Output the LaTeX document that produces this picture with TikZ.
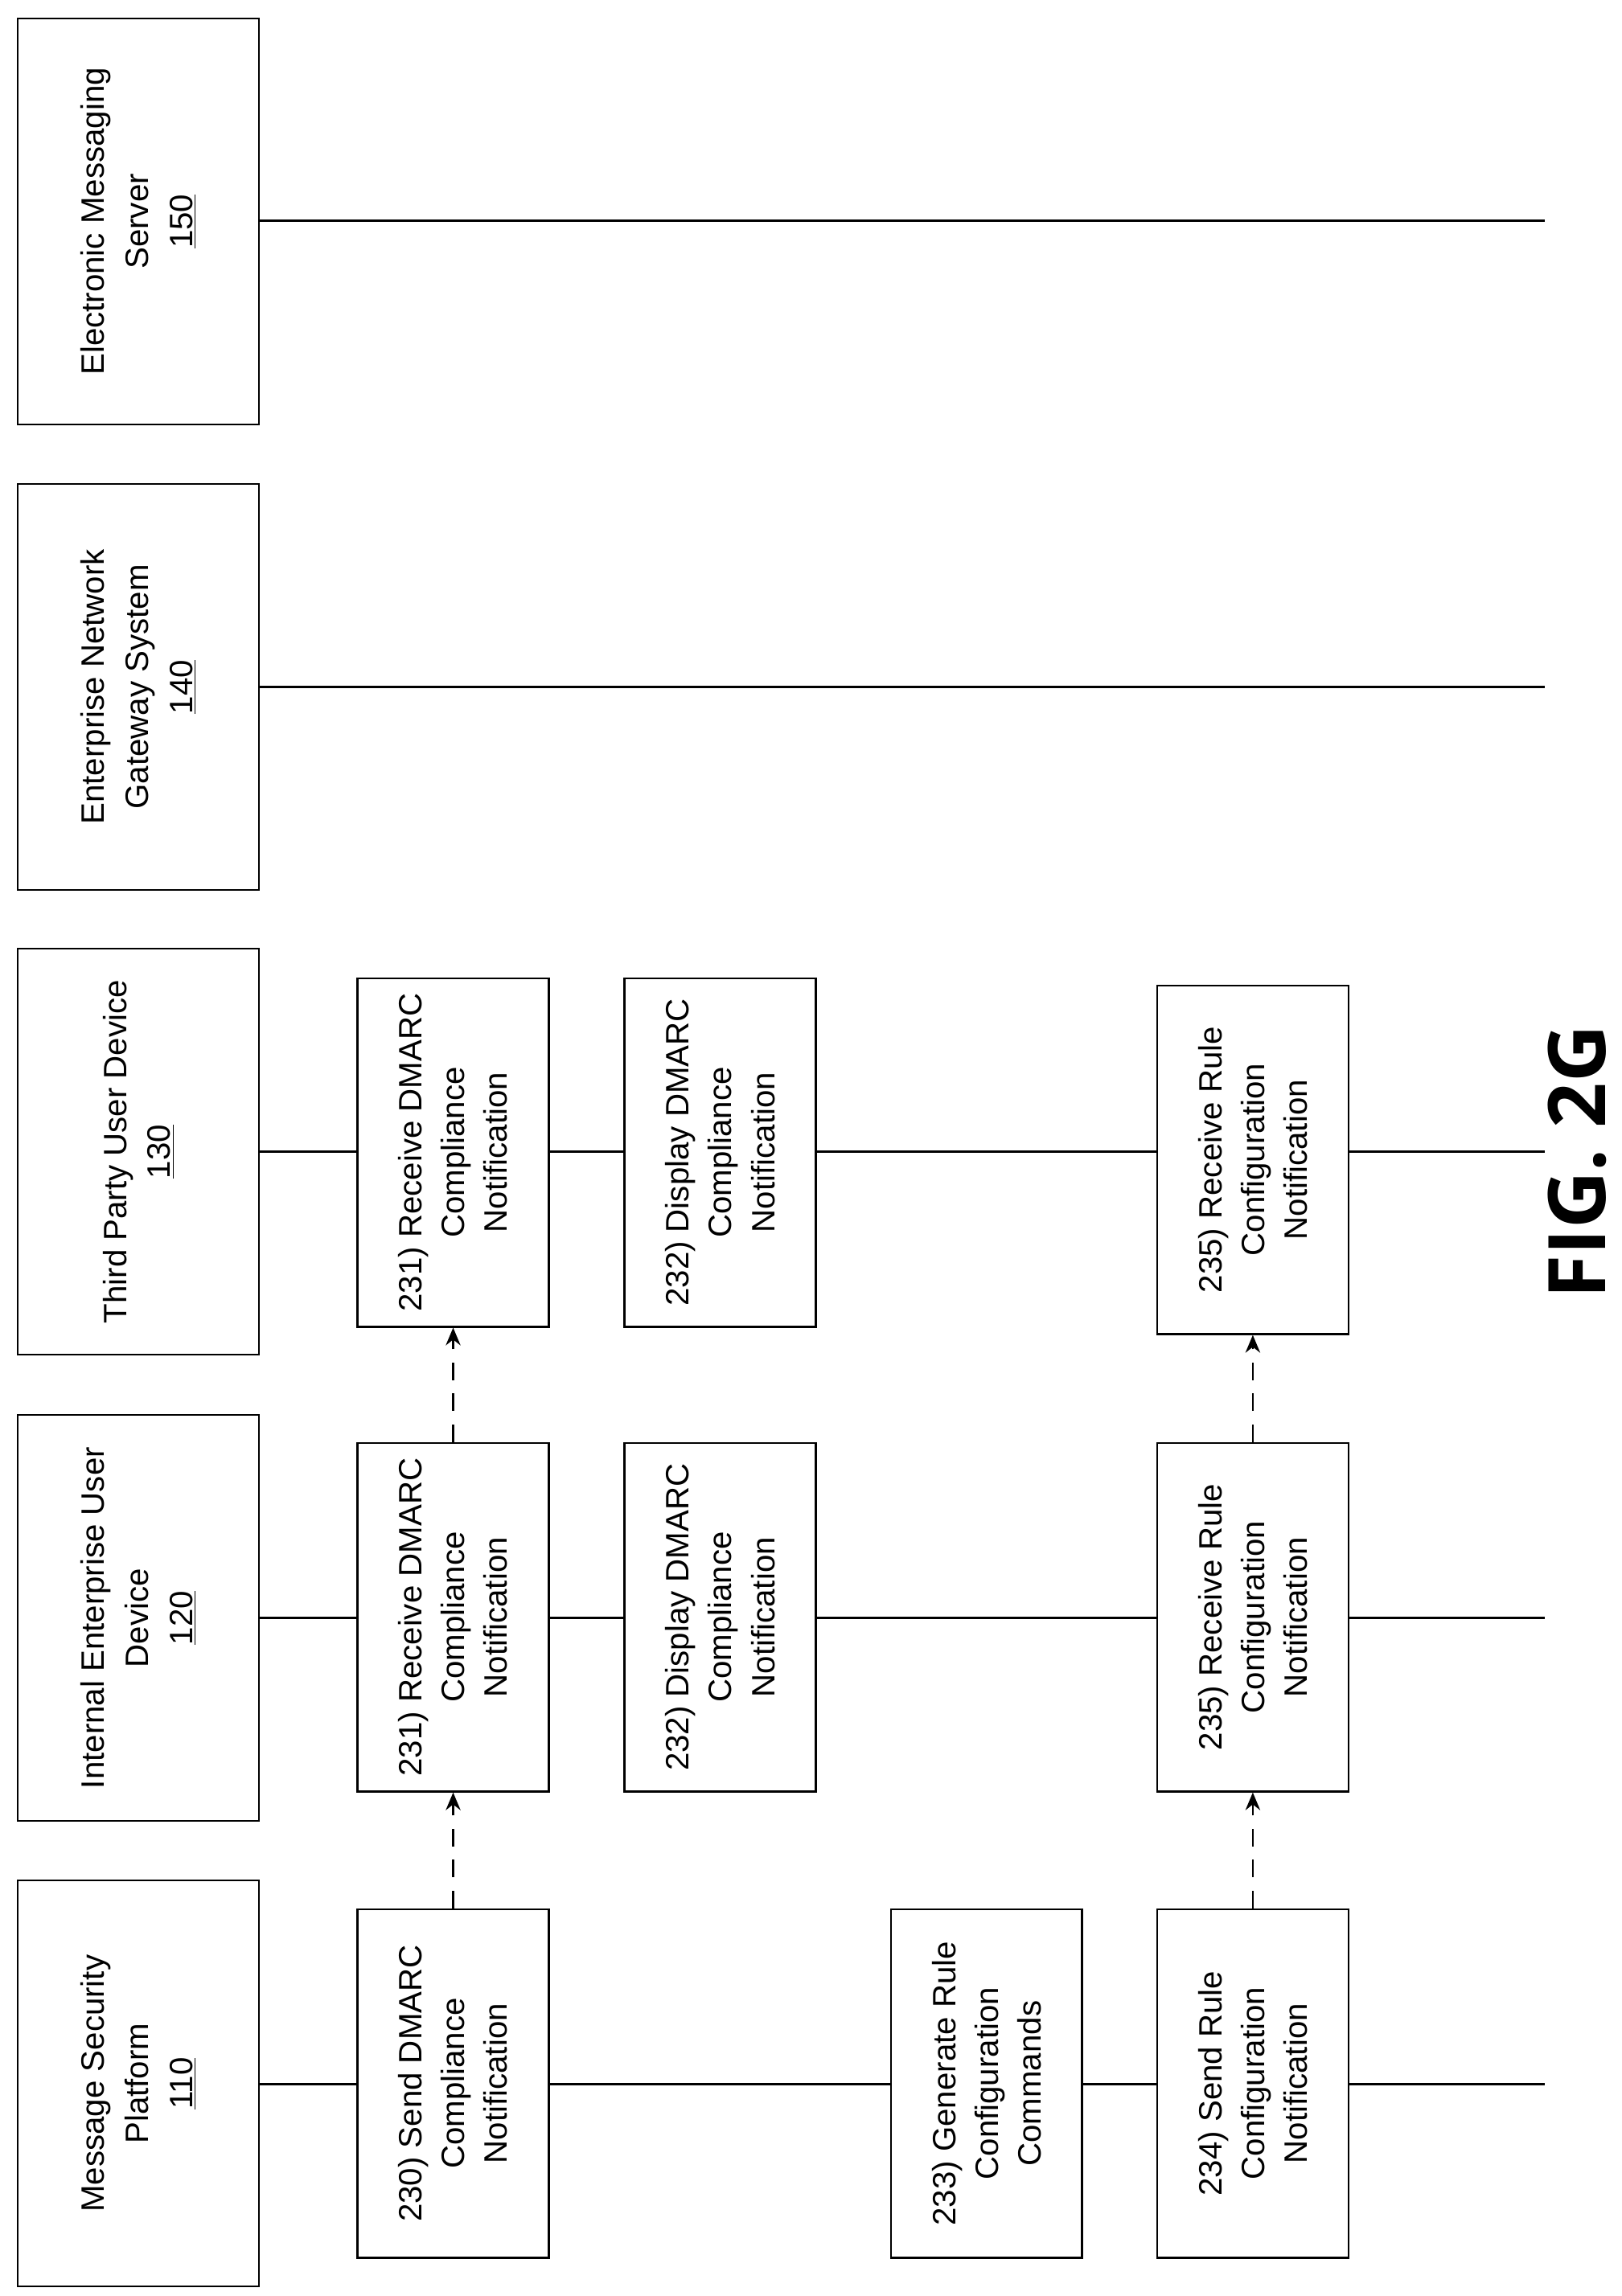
\documentclass[tikz,border=0pt]{standalone}
\usepackage{fontspec}
\setmainfont{Liberation Sans}
\newfontfamily\figfont{Open Sans}
\usetikzlibrary{arrows.meta}
\begin{document}
\begin{tikzpicture}[x=1pt,y=-1pt,
  hdr/.style={draw,line width=1.3pt,minimum width=276pt,minimum height=164pt,rotate=90,align=center,font=\fontsize{22}{30}\selectfont,fill=white},
  stepbox/.style={draw,line width=1.3pt,minimum width=237pt,minimum height=130pt,rotate=90,align=center,font=\fontsize{22}{29}\selectfont,fill=white},
  life/.style={line width=1.3pt},
  msg/.style={line width=1.5pt,dashed,dash pattern=on 12pt off 9pt,-{Stealth[length=12pt,width=10pt]}}]
\useasboundingbox (0,0) rectangle (1102,1561);
% lifelines
\foreach \y/\n in {150/a,467/b,783/c,1100/d,1417/e}{
  \coordinate (s\n) at (176,\y); \coordinate (t\n) at (1050,\y);
  \draw[life] (s\n) -- (t\n);}
\node[hdr] (h150) at (94,150.5) {Electronic Messaging\\Server\\\underline{150}};
\node[hdr] (h140) at (94,467) {Enterprise Network\\Gateway System\\\underline{140}};
\node[hdr] (h130) at (94,783) {Third Party User Device\\\underline{130}};
\node[hdr] (h120) at (94,1100) {Internal Enterprise User\\Device\\\underline{120}};
\node[hdr] (h110) at (94,1416.5) {Message Security\\Platform\\\underline{110}};
% steps
\node[stepbox] (r231c) at (308,783.5) {231) Receive DMARC\\Compliance\\Notification};
\node[stepbox] (d232c) at (489.5,783.5) {232) Display DMARC\\Compliance\\Notification};
\node[stepbox] (r235c) at (851.5,788.5) {235) Receive Rule\\Configuration\\Notification};
\node[stepbox] (r231d) at (308,1099.5) {231) Receive DMARC\\Compliance\\Notification};
\node[stepbox] (d232d) at (489.5,1099.5) {232) Display DMARC\\Compliance\\Notification};
\node[stepbox] (r235d) at (851.5,1099.5) {235) Receive Rule\\Configuration\\Notification};
\node[stepbox] (s230) at (308,1416.5) {230) Send DMARC\\Compliance\\Notification};
\node[stepbox] (g233) at (670.5,1416.5) {233) Generate Rule\\Configuration\\Commands};
\node[stepbox] (s234) at (851.5,1416.5) {234) Send Rule\\Configuration\\Notification};
% messages
\draw[msg] (s230.east) -- (r231d.west);
\draw[msg] (r231d.east) -- (r231c.west);
\draw[msg] (s234.east) -- (r235d.west);
\draw[msg] (r235d.east) -- (r235c.west);
\node[rotate=90,font=\figfont\fontsize{54}{60}\selectfont\bfseries] (fig) at (1072,790) {FIG. 2G};
\end{tikzpicture}
\end{document}
